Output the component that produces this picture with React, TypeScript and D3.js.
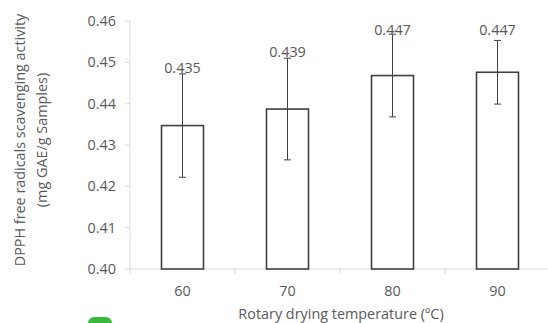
import React from 'react';
import * as d3 from 'd3';

const categories = ['60', '70', '80', '90'];
const values = [0.4347, 0.4387, 0.4468, 0.4476];
const errors = [0.0125, 0.0123, 0.0100, 0.0077];
const valueLabels = ['0.435', '0.439', '0.447', '0.447'];
// where the label baseline sits, in data units (Excel placed them by hand)
const labelAt = [0.4473, 0.4514, 0.4567, 0.4567];
const yTicks = [0.40, 0.41, 0.42, 0.43, 0.44, 0.45, 0.46];

const W = 548;
const H = 323;
const margin = { top: 21, right: -2, bottom: 54, left: 130 };
const font = '"Open Sans", sans-serif';
const fs = 14.4;
const textColor = '#595959';

export default function App() {
  const innerW = W - margin.left - margin.right;
  const innerH = H - margin.top - margin.bottom;

  const x = d3.scaleBand<string>().domain(categories).range([0, innerW]).paddingInner(0.6).paddingOuter(0.3);
  const y = d3.scaleLinear().domain([0.40, 0.46]).range([innerH, 0]);
  const step = x.step();
  const bandOffset = (innerW - step * categories.length) / 2;
  const bandStarts = d3.range(categories.length + 1).map(i => step * i + bandOffset);
  const cx = (c: string) => (x(c) ?? 0) + x.bandwidth() / 2;

  return (
    <svg width={W} height={H} style={{ position: 'absolute', left: 0, top: 0, background: '#fff' }}>
      <g transform={`translate(${margin.left},${margin.top})`}>
        {/* axes */}
        <line x1={0} x2={0} y1={y(0.46)} y2={innerH} stroke="#d9d9d9" />
        {yTicks.map(t => (
          <g key={t}>
            <line x1={-5} x2={0} y1={y(t)} y2={y(t)} stroke="#d9d9d9" />
            <text x={-14} y={y(t)} dy="0.35em" textAnchor="end" fontFamily={font} fontSize={fs} fill={textColor}>
              {t.toFixed(2)}
            </text>
          </g>
        ))}
        <line x1={0} x2={innerW} y1={innerH} y2={innerH} stroke="#d9d9d9" />
        {bandStarts.map((b, i) => (
          <line key={i} x1={b} x2={b} y1={innerH} y2={innerH + 5} stroke="#d9d9d9" />
        ))}
        {categories.map(c => (
          <text key={c} x={cx(c)} y={innerH + 22} dy="0.35em" textAnchor="middle" fontFamily={font} fontSize={fs} fill={textColor}>
            {c}
          </text>
        ))}

        {/* bars */}
        {categories.map((c, i) => (
          <rect
            key={c}
            x={x(c)}
            y={y(values[i])}
            width={x.bandwidth()}
            height={innerH - y(values[i])}
            fill="#fff"
            stroke="#404040"
            strokeWidth={1.6}
          />
        ))}

        {/* error bars */}
        {categories.map((c, i) => {
          const hi = y(values[i] + errors[i]);
          const lo = y(values[i] - errors[i]);
          const xc = cx(c);
          return (
            <g key={c} stroke="#404040" strokeWidth={1}>
              <line x1={xc} x2={xc} y1={hi} y2={lo} />
              <line x1={xc - 3.5} x2={xc + 3.5} y1={hi} y2={hi} />
              <line x1={xc - 3.5} x2={xc + 3.5} y1={lo} y2={lo} />
            </g>
          );
        })}

        {/* value labels */}
        {categories.map((c, i) => (
          <text key={c} x={cx(c)} y={y(labelAt[i])} textAnchor="middle" fontFamily={font} fontSize={fs} fill={textColor}>
            {valueLabels[i]}
          </text>
        ))}
      </g>

      {/* axis titles */}
      <text x={margin.left + innerW / 2 + 1} y={314} dy="0.35em" textAnchor="middle" fontFamily={font} fontSize={fs} fill={textColor}>
        Rotary drying temperature (ºC)
      </text>
      <text transform="translate(20,140) rotate(-90)" textAnchor="middle" dy="0.35em" fontFamily={font} fontSize={fs} fill={textColor}>
        DPPH free radicals scavenging activity
      </text>
      <text transform="translate(42,140) rotate(-90)" textAnchor="middle" dy="0.35em" fontFamily={font} fontSize={fs} fill={textColor}>
        (mg GAE/g Samples)
      </text>

      {/* green marker peeking in at the bottom */}
      <rect x={88} y={317} width={24} height={12} rx={6} fill="#3cb83c" />
    </svg>
  );
}
